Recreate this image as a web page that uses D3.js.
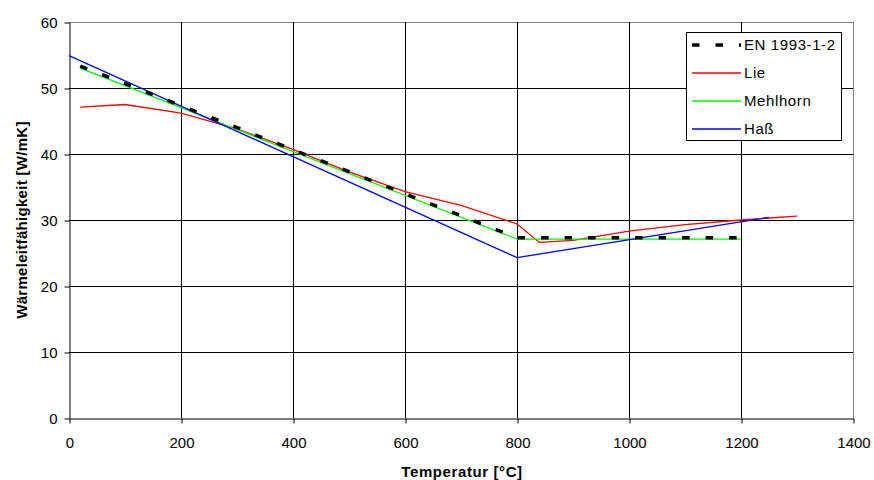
<!DOCTYPE html>
<html>
<head>
<meta charset="utf-8">
<script src="https://cdn.jsdelivr.net/npm/d3@7"></script>
<style>
  html, body { margin: 0; padding: 0; background: #fff; }
  svg { display: block; font-family: "Liberation Sans", Arial, sans-serif; }
</style>
</head>
<body>
<svg id="chart" width="874" height="480"></svg>
<script>
// Thermal conductivity of steel over temperature — four models
const xTicks = [0, 200, 400, 600, 800, 1000, 1200, 1400];
const yTicks = [0, 10, 20, 30, 40, 50, 60];

const enTemp  = [20, 800, 1200];
const enVal   = [53.33, 27.3, 27.3];

const lieTemp = [20, 100, 200, 300, 400, 500, 600, 700, 800, 840, 900, 1000, 1100, 1200, 1300];
const lieVal  = [47.1, 47.5, 46.2, 43.8, 40.7, 37.3, 34.3, 32.2, 29.4, 26.6, 26.9, 28.3, 29.3, 30.0, 30.6];

const mehlTemp = [20, 800, 1200];
const mehlVal  = [53.0, 27.1, 27.1];

const hasTemp = [0, 800, 1250];
const hasVal  = [54.9, 24.3, 30.4];

const seriesNames = ["EN 1993-1-2", "Lie", "Mehlhorn", "Haß"];

const svg = d3.select("#chart");
const plotL = 69, plotR = 853, plotT = 22, plotB = 418;

const x = d3.scaleLinear().domain([0, 1400]).range([plotL, plotR]);
const y = d3.scaleLinear().domain([0, 60]).range([plotB, plotT]);

// grid
const grid = svg.append("g");
grid.selectAll("line.h").data(yTicks.filter(v => v > 0)).join("line")
  .attr("x1", plotL).attr("x2", plotR)
  .attr("y1", d => y(d) + 0.5).attr("y2", d => y(d) + 0.5)
  .attr("stroke", d => d === 60 ? "#808080" : "#000").attr("stroke-width", 1);
grid.selectAll("line.v").data(xTicks.filter(v => v > 0)).join("line")
  .attr("y1", plotT).attr("y2", plotB)
  .attr("x1", d => x(d) + 0.5).attr("x2", d => x(d) + 0.5)
  .attr("stroke", d => d === 1400 ? "#808080" : "#000").attr("stroke-width", 1);

// axes
const xAxis = svg.append("g").attr("transform", `translate(0.5,${plotB + 0.5})`)
  .call(d3.axisBottom(x).tickValues(xTicks).tickFormat(d3.format("d"))
    .tickSize(5).tickPadding(14).tickSizeOuter(0));
const yAxis = svg.append("g").attr("transform", `translate(${plotL + 0.5},0.5)`)
  .call(d3.axisLeft(y).tickValues(yTicks).tickFormat(d3.format("d"))
    .tickSize(5).tickPadding(7).tickSizeOuter(0));
[xAxis, yAxis].forEach(a => {
  a.attr("font-size", 15).attr("font-family", "Liberation Sans, Arial, sans-serif");
  a.selectAll("path.domain").attr("stroke", "#000");
  a.selectAll(".tick line").attr("stroke", "#000");
  a.selectAll("text").attr("fill", "#000");
});

// lines
const line = d3.line().x(d => x(d[0])).y(d => y(d[1]));
const zip = (a, b) => a.map((v, i) => [v, b[i]]);

svg.append("path").datum(zip(lieTemp, lieVal)).attr("d", line)
  .attr("fill", "none").attr("stroke", "#ff0000").attr("stroke-width", 1.3);
svg.append("path").datum(zip(mehlTemp, mehlVal)).attr("d", line)
  .attr("fill", "none").attr("stroke", "#00ff00").attr("stroke-width", 1.3);
svg.append("path").datum(zip(hasTemp, hasVal)).attr("d", line)
  .attr("fill", "none").attr("stroke", "#0000ff").attr("stroke-width", 1.3);
svg.append("path").datum(zip(enTemp, enVal)).attr("d", line)
  .attr("fill", "none").attr("stroke", "#000").attr("stroke-width", 3.5)
  .attr("stroke-dasharray", "7.5,16");

// axis titles
svg.append("text").attr("x", 462).attr("y", 477).attr("text-anchor", "middle")
  .attr("font-weight", "bold").attr("font-size", 15).attr("letter-spacing", 0.6)
  .text("Temperatur [°C]");
svg.append("text").attr("transform", "translate(27,220) rotate(-90)").attr("text-anchor", "middle")
  .attr("font-weight", "bold").attr("font-size", 15).attr("letter-spacing", 0.3)
  .text("Wärmeleitfähigkeit [W/mK]");

// legend
const lg = svg.append("g");
lg.append("rect").attr("x", 686.5).attr("y", 32.5).attr("width", 155).attr("height", 108)
  .attr("fill", "#fff").attr("stroke", "#000").attr("stroke-width", 1);
const lgColors = ["#000", "#ff0000", "#00ff00", "#0000ff"];
seriesNames.forEach((name, i) => {
  const cy = 45 + i * 28;
  const l = lg.append("line").attr("x1", 692).attr("x2", 741).attr("y1", cy).attr("y2", cy)
    .attr("stroke", lgColors[i]);
  if (i === 0) l.attr("stroke-width", 3.5).attr("stroke-dasharray", "7.5,16");
  else l.attr("stroke-width", 1.3);
  lg.append("text").attr("x", 744).attr("y", cy + 5).attr("font-size", 15)
    .attr("letter-spacing", 0.6).text(name);
});
</script>
</body>
</html>
